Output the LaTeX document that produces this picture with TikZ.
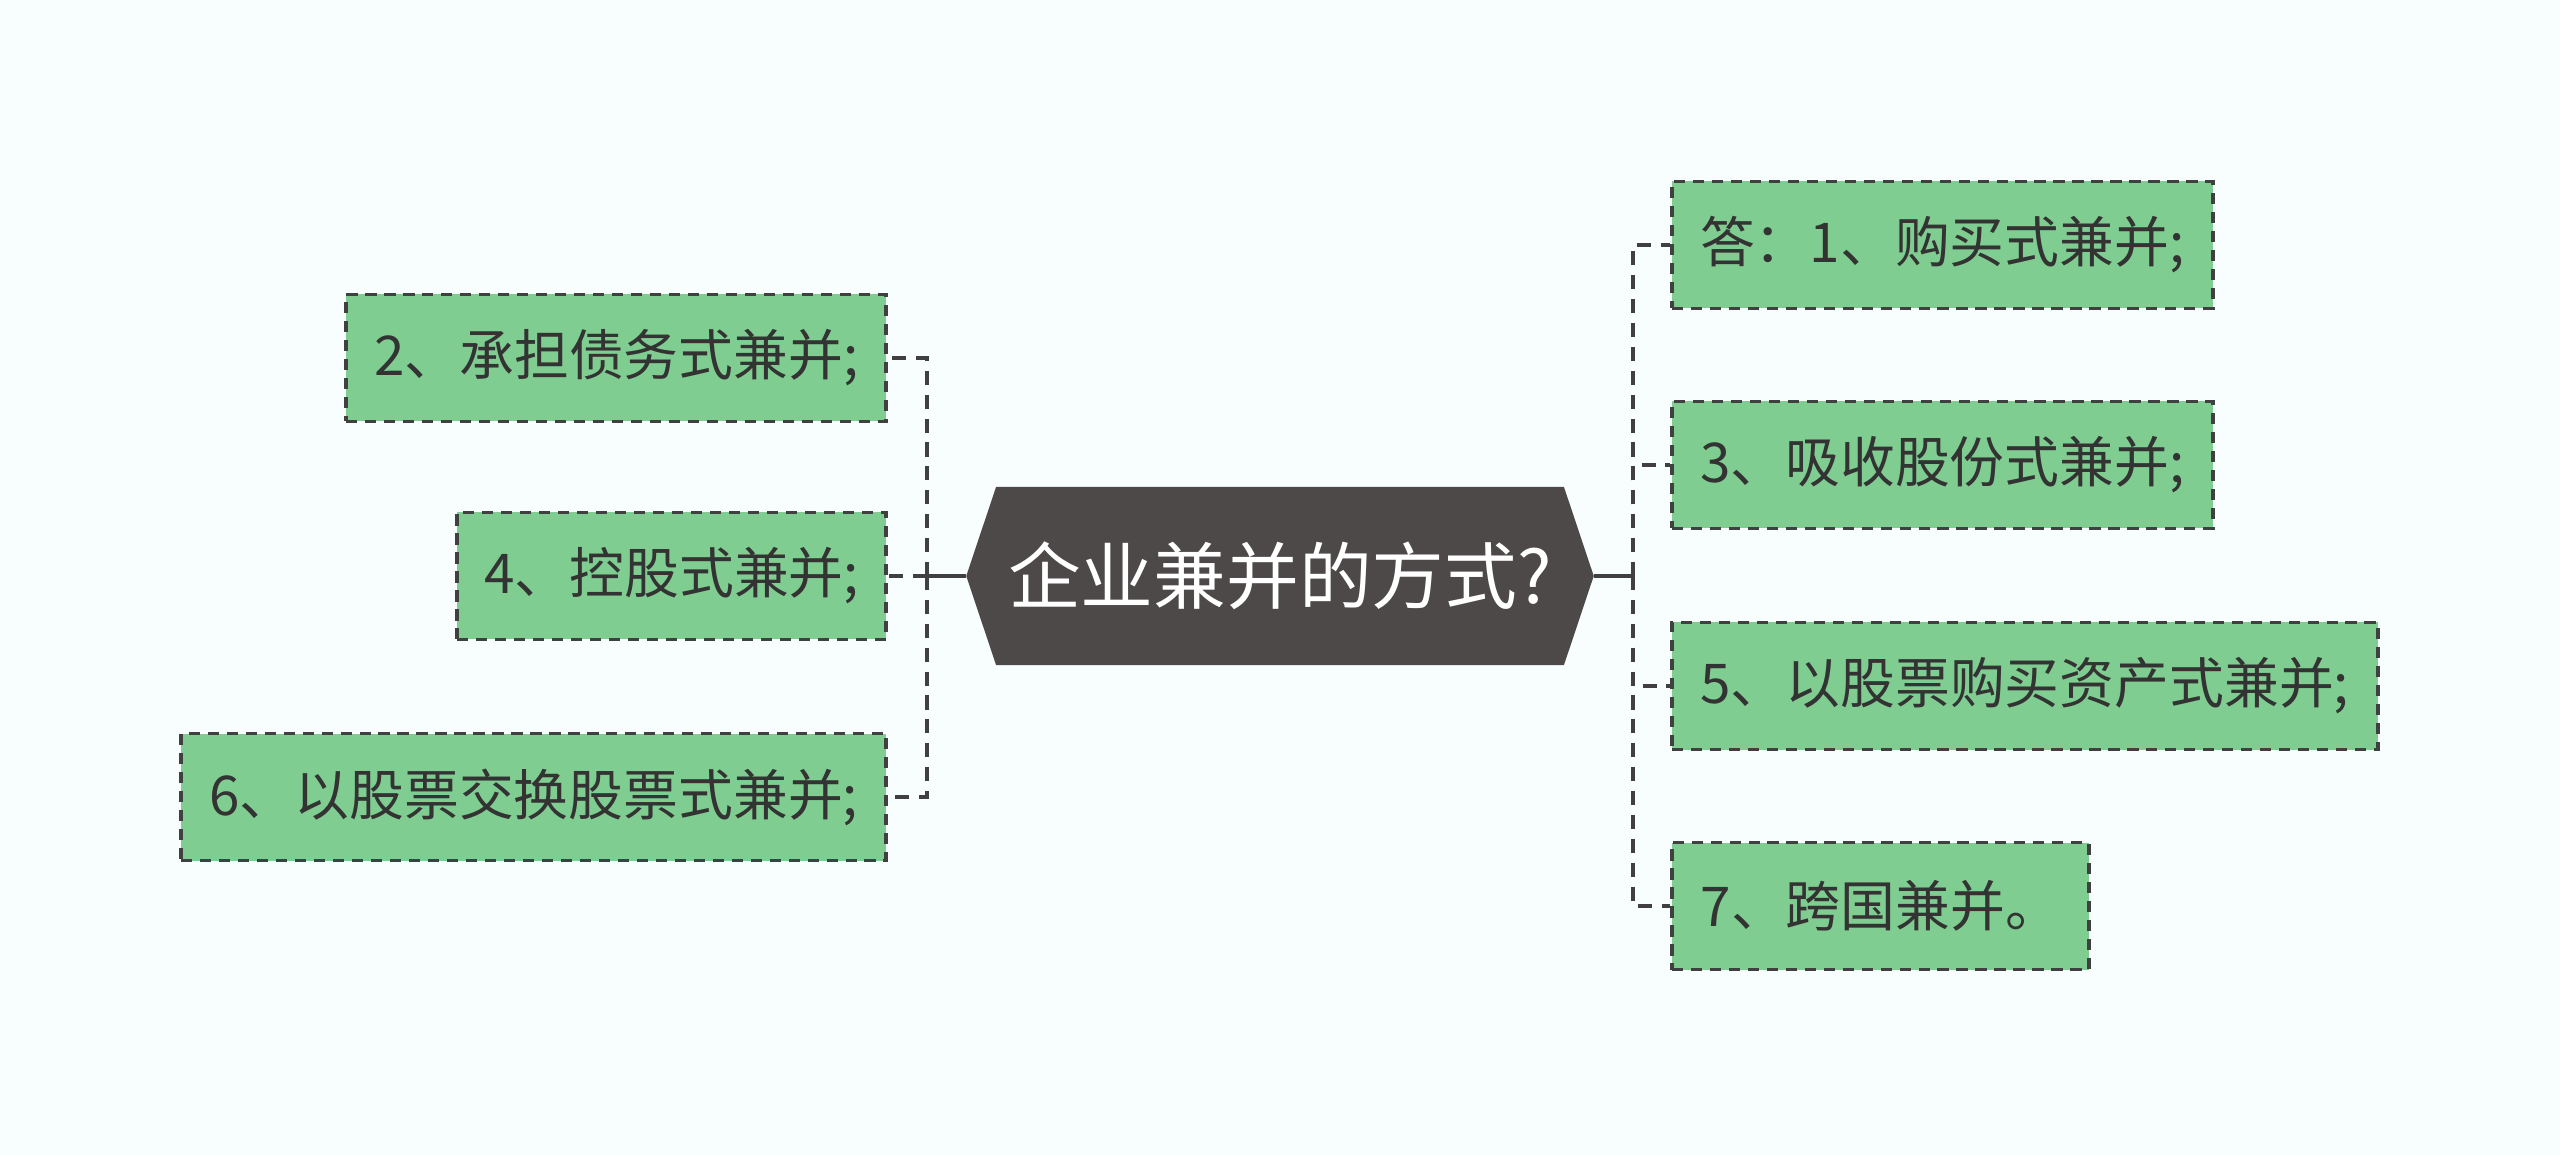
\documentclass[tikz,border=0pt]{standalone}
\usepackage{fontspec}
\usepackage{xcolor}
\usepackage{tikz}
\usetikzlibrary{positioning,shapes.symbols,backgrounds}
\newfontfamily\cjk{Noto Sans CJK SC}
\definecolor{pagebg}{HTML}{F8FDFE}
\definecolor{leafgreen}{HTML}{80CD91}
\definecolor{hubgray}{HTML}{4D4949}
\definecolor{edgegray}{HTML}{404040}
\definecolor{txtgray}{HTML}{333333}

\begin{document}
\begin{tikzpicture}[
    x=1cm, y=1cm,
    hub/.style={signal, signal to=west and east, signal pointer angle=143,
                fill=hubgray, draw=hubgray, text=white, inner sep=0pt,
                minimum width=6.26cm, minimum height=1.77cm,
                font=\cjk\fontsize{20.7pt}{24pt}\selectfont},
    leaf/.style={draw=edgegray, fill=leafgreen, line width=1pt,
                 dash pattern=on 3.2pt off 2.2pt, minimum height=1.27cm,
                 inner xsep=0pt, text=txtgray,
                 font=\cjk\fontsize{15.6pt}{18pt}\selectfont},
    link/.style={draw=edgegray, line width=1.3pt, dash pattern=on 4pt off 2.8pt},
    stem/.style={draw=edgegray, line width=1.3pt},
]
\useasboundingbox[fill=pagebg] (0,0) rectangle (25.6,-11.55);

\node[hub] (hub) at (12.80,-5.76) {企业兼并的方式?};

% right branches
\node[leaf, anchor=west, minimum width=5.41cm] (r1) at (16.70,-2.45) {答：1、购买式兼并;};
\node[leaf, anchor=west, minimum width=5.41cm] (r3) at (16.70,-4.65) {3、吸收股份式兼并;};
\node[leaf, anchor=west, minimum width=7.06cm] (r5) at (16.70,-6.86) {5、以股票购买资产式兼并;};
\node[leaf, anchor=west, minimum width=4.17cm] (r7) at (16.70,-9.06) {7、跨国兼并。};

% left branches
\node[leaf, anchor=east, minimum width=5.40cm] (l2) at (8.88,-3.58) {2、承担债务式兼并;};
\node[leaf, anchor=east, minimum width=4.29cm] (l4) at (8.88,-5.76) {4、控股式兼并;};
\node[leaf, anchor=east, minimum width=7.05cm] (l6) at (8.88,-7.97) {6、以股票交换股票式兼并;};

\coordinate (rj) at (16.33,-5.76);
\coordinate (lj) at (9.27,-5.76);

\draw[stem] (hub.east) -- (rj);
\draw[stem] (hub.west) -- (lj);
\foreach \n in {r1,r3,r5,r7}
    \draw[link] (rj) |- (\n.west);
\foreach \n in {l2,l4,l6}
    \draw[link] (lj) |- (\n.east);
\end{tikzpicture}
\end{document}
